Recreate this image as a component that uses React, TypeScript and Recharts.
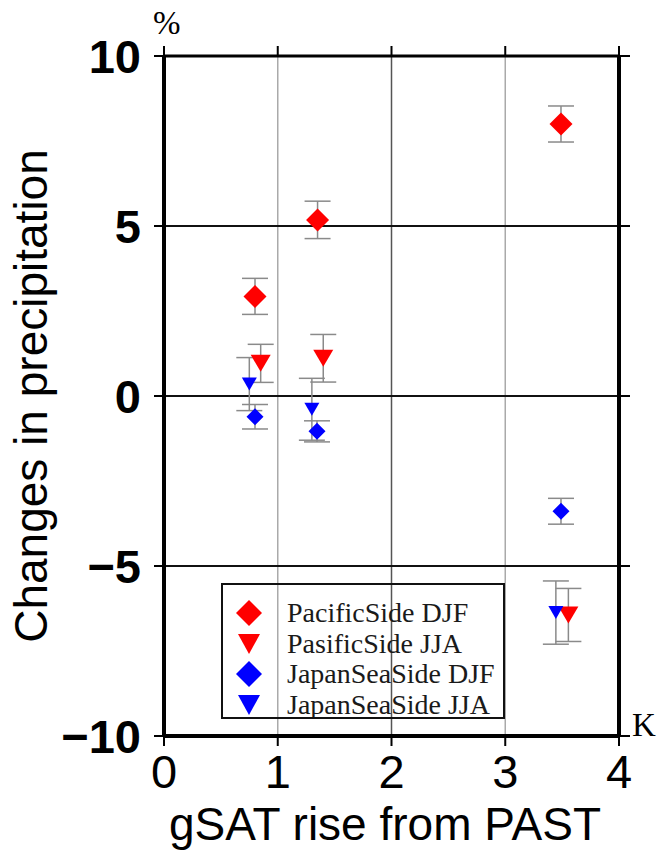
import React from 'react';
import {
  ScatterChart,
  Scatter,
  XAxis,
  YAxis,
  ErrorBar,
  ReferenceLine,
  Legend,
  Label,
} from 'recharts';

// values
const xTicks = [0, 1, 2, 3, 4];
const yTicks = [-10, -5, 0, 5, 10];
const xGrid = [1, 2, 3];
const yGrid = [-5, 0, 5];

const pacificDjfX = [0.8, 1.35, 3.49];
const pacificDjfY = [2.93, 5.18, 8.0];
const pacificDjfErr = [0.53, 0.55, 0.53];

const pacificJjaX = [0.85, 1.4, 3.555];
const pacificJjaY = [0.96, 1.11, -6.44];
const pacificJjaErr = [0.56, 0.7, 0.78];

const japanDjfX = [0.8, 1.345, 3.49];
const japanDjfY = [-0.61, -1.04, -3.39];
const japanDjfErr = [0.36, 0.31, 0.38];

const japanJjaX = [0.75, 1.3, 3.445];
const japanJjaY = [0.35, -0.39, -6.37];
const japanJjaErr = [0.78, 0.91, 0.93];

const toRows = (xs: number[], ys: number[], errs: number[]) =>
  xs.map((x, i) => ({ x, y: ys[i], err: errs[i] }));

const diamond = (r: number) => (props: any) => {
  const { cx, cy, fill } = props;
  return <polygon points={`${cx},${cy - r} ${cx + r},${cy} ${cx},${cy + r} ${cx - r},${cy}`} fill={fill} />;
};

const triangleDown = (w: number, h: number) => (props: any) => {
  const { cx, cy, fill } = props;
  return (
    <polygon
      points={`${cx - w / 2},${cy - h / 2} ${cx + w / 2},${cy - h / 2} ${cx},${cy + h / 2}`}
      fill={fill}
    />
  );
};

const series = [
  { name: 'PacificSide DJF', color: '#ff0000', data: toRows(pacificDjfX, pacificDjfY, pacificDjfErr), shape: diamond(11.5), kind: 'd' },
  { name: 'PasificSide JJA', color: '#ff0000', data: toRows(pacificJjaX, pacificJjaY, pacificJjaErr), shape: triangleDown(20, 17), kind: 't' },
  { name: 'JapanSeaSide DJF', color: '#0000ff', data: toRows(japanDjfX, japanDjfY, japanDjfErr), shape: diamond(8.5), kind: 'd' },
  { name: 'JapanSeaSide JJA', color: '#0000ff', data: toRows(japanJjaX, japanJjaY, japanJjaErr), shape: triangleDown(15, 13), kind: 't' },
];

const serif = '"Liberation Serif", "Times New Roman", serif';
const sans = '"Liberation Sans", Arial, Helvetica, sans-serif';

const noTick = () => <g />;

const LegendBox = () => (
  <div style={{ paddingTop: 13, paddingLeft: 12 }}>
    {series.map((s) => (
      <div key={s.name} style={{ display: 'flex', alignItems: 'center', height: 30.5, whiteSpace: 'nowrap' }}>
        <svg width={28} height={28} style={{ flex: 'none' }}>
          {s.kind === 'd' ? (
            <polygon points="14,1 27,14 14,27 1,14" fill={s.color} />
          ) : (
            <polygon points="3,4 25,4 14,24" fill={s.color} />
          )}
        </svg>
        <span style={{ fontFamily: serif, fontSize: 28, color: '#1a1a1a', marginLeft: 24, lineHeight: '30px' }}>{s.name}</span>
      </div>
    ))}
  </div>
);

const App = () => {
  return (
    <div style={{ position: 'absolute', left: 0, top: 0, width: 660, height: 850, background: '#fff' }}>
      <ScatterChart width={660} height={850} margin={{ top: 55, right: 40, bottom: 0, left: 0 }}>
        {xGrid.map((v) => (
          <ReferenceLine key={'gx' + v} x={v} stroke={v === 2 ? '#555' : '#aaa'} strokeWidth={1.5} />
        ))}
        {yGrid.map((v) => (
          <ReferenceLine key={'gy' + v} y={v} stroke="#111" strokeWidth={1.8} />
        ))}
        <XAxis
          dataKey="x"
          type="number"
          domain={[0, 4]}
          ticks={xTicks}
          height={114}
          tickSize={10}
          tickMargin={9}
          axisLine={{ stroke: '#000', strokeWidth: 4 }}
          tickLine={{ stroke: '#000', strokeWidth: 2 }}
          tick={{ fill: '#000', fontSize: 47, fontFamily: sans }}
          allowDataOverflow
        >
          <Label
            content={() => (
              <text x={385} y={840} textAnchor="middle" fontSize={46} fontFamily={sans} fill="#000">
                gSAT rise from PAST
              </text>
            )}
          />
        </XAxis>
        <XAxis
          xAxisId="top"
          dataKey="x"
          orientation="top"
          type="number"
          domain={[0, 4]}
          ticks={xTicks}
          height={1}
          tickSize={10}
          axisLine={{ stroke: '#000', strokeWidth: 3 }}
          tickLine={{ stroke: '#000', strokeWidth: 2 }}
          tick={noTick}
          allowDataOverflow
        />
        <YAxis
          dataKey="y"
          type="number"
          domain={[-10, 10]}
          ticks={yTicks}
          width={164}
          tickSize={10}
          tickMargin={13}
          axisLine={{ stroke: '#000', strokeWidth: 4 }}
          tickLine={{ stroke: '#000', strokeWidth: 2 }}
          tick={{ fill: '#000', fontSize: 47, fontFamily: sans, fontWeight: 'bold' }}
          tickFormatter={(v: number) => String(v).replace('-', '\u2212')}
          allowDataOverflow
        >
          <Label
            content={(props: any) => {
              const vb = props.viewBox || { y: 56, height: 680 };
              const cy = vb.y + vb.height / 2;
              return (
                <text
                  x={47}
                  y={cy}
                  transform={`rotate(-90 47 ${cy})`}
                  textAnchor="middle"
                  fontSize={46}
                  fontFamily={sans}
                  fill="#000"
                >
                  Changes in precipitation
                </text>
              );
            }}
          />
        </YAxis>
        <YAxis
          yAxisId="right"
          dataKey="y"
          orientation="right"
          type="number"
          domain={[-10, 10]}
          ticks={yTicks}
          width={1}
          tickSize={11}
          axisLine={{ stroke: '#000', strokeWidth: 4 }}
          tickLine={{ stroke: '#000', strokeWidth: 2 }}
          tick={noTick}
          allowDataOverflow
        />
        {series.map((s) => (
          <Scatter
            key={s.name}
            name={s.name}
            data={s.data}
            fill={s.color}
            shape={s.shape}
            isAnimationActive={false}
          >
            <ErrorBar dataKey="err" direction="y" width={13} stroke="#8a8a8a" strokeWidth={1.5} />
          </Scatter>
        ))}
        <Scatter
          name="frame"
          xAxisId="top"
          yAxisId="right"
          data={[]}
          legendType="none"
          isAnimationActive={false}
        />
        <Legend
          layout="vertical"
          align="center"
          verticalAlign="middle"
          content={<LegendBox />}
          wrapperStyle={{
            left: 221,
            top: 583,
            width: 284,
            height: 136,
            border: '2px solid #111',
            boxSizing: 'border-box',
            overflow: 'hidden',
          }}
        />
      </ScatterChart>
      <div style={{ position: 'absolute', left: 153, top: 5, fontFamily: serif, fontSize: 33, color: '#000' }}>%</div>
      <div style={{ position: 'absolute', left: 632, top: 707, fontFamily: serif, fontSize: 33, color: '#000' }}>K</div>
    </div>
  );
};

export default App;
